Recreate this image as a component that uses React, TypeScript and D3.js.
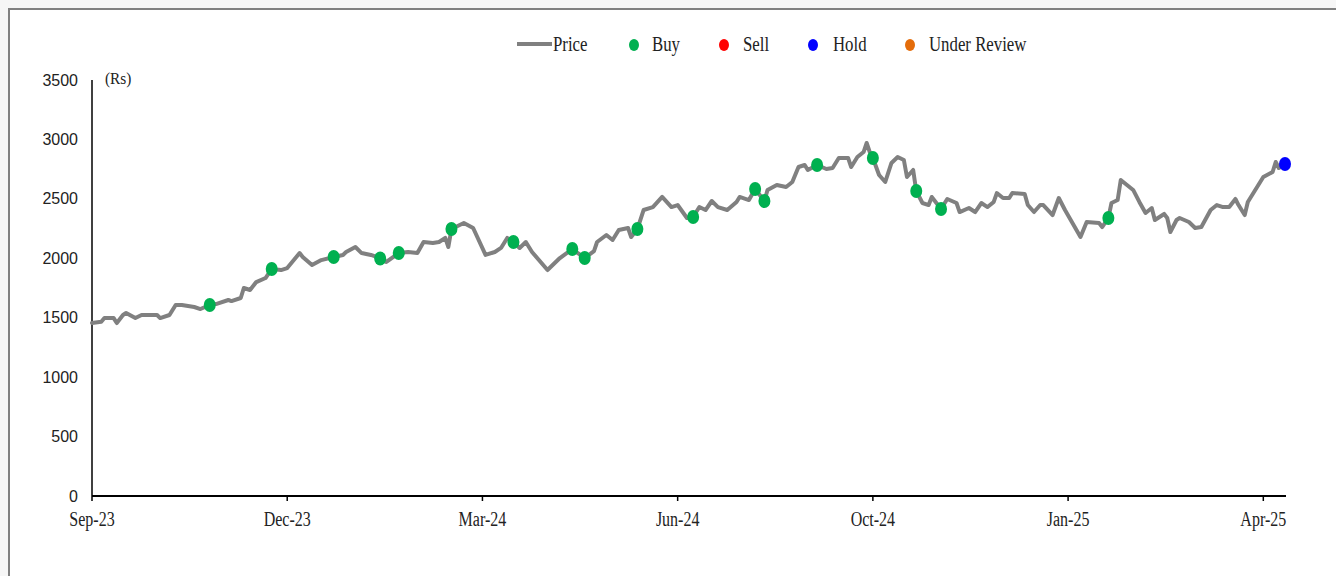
import React from "react";
import * as d3 from "d3";

// Trading-day index (0 = start of Sep-23) and closing price (Rs)
const priceDay = [
  0, 3, 4, 7, 8, 10, 11, 14, 16, 21, 22, 25, 27, 29, 33, 35, 38, 40, 44, 45, 48, 49, 51, 53, 56, 58,
  61, 63, 67, 68, 71, 74, 78, 81, 82, 85, 87, 90, 93, 95, 99, 102, 105, 107, 110, 112, 114, 115,
  116, 120, 123, 127, 130, 132, 134, 136, 138, 140, 142, 147, 151, 155, 159, 162, 163, 166, 168,
  170, 173, 174, 176, 178, 181, 184, 187, 189, 192, 194, 196, 198, 200, 202, 205, 208, 209, 212,
  214, 217, 218, 221, 224, 226, 228, 230, 231, 234, 237, 239, 241, 244, 245, 247, 249, 250, 251,
  252, 254, 256, 258, 260, 262, 263, 265, 266, 268, 270, 271, 274, 276, 279, 280, 283, 285, 287,
  289, 291, 292, 294, 296, 297, 301, 302, 304, 306, 307, 310, 312, 314, 319, 321, 325, 326, 328,
  329, 331, 332, 334, 336, 338, 340, 342, 343, 346, 347, 348, 350, 351, 354, 356, 358, 361, 363,
  365, 367, 369, 370, 372, 373, 376, 378, 381, 382, 383, 385,
];
const priceValue = [
  1455, 1466, 1497, 1497, 1455, 1523, 1540, 1497, 1523, 1523, 1497, 1523, 1607, 1607, 1590, 1573,
  1607, 1615, 1649, 1640, 1666, 1750, 1733, 1800, 1834, 1910, 1901, 1918, 2044, 2011, 1943, 1985,
  2011, 2028, 2053, 2095, 2044, 2028, 2002, 1969, 2044, 2053, 2044, 2137, 2129, 2137, 2171, 2095,
  2246, 2297, 2255, 2028, 2053, 2087, 2171, 2137, 2087, 2137, 2053, 1901, 2002, 2078, 2002, 2061,
  2137, 2196, 2154, 2238, 2255, 2179, 2246, 2406, 2431, 2516, 2431, 2448, 2339, 2347, 2431, 2406,
  2482, 2431, 2406, 2474, 2516, 2490, 2583, 2482, 2575, 2617, 2600, 2642, 2768, 2785, 2743, 2785,
  2751, 2760, 2844, 2844, 2768, 2852, 2894, 2970, 2894, 2844, 2701, 2642, 2802, 2852, 2827, 2684,
  2743, 2566, 2465, 2448, 2516, 2415, 2499, 2465, 2389, 2423, 2389, 2465, 2431, 2474, 2549, 2507,
  2507, 2549, 2541, 2448, 2389, 2448, 2448, 2364, 2507, 2406, 2179, 2305, 2297, 2263, 2339, 2465,
  2490, 2659, 2617, 2575, 2474, 2381, 2423, 2322, 2373, 2339, 2221, 2322, 2339, 2305, 2255, 2263,
  2406, 2448, 2431, 2431, 2499, 2448, 2364, 2474, 2600, 2684, 2726, 2810, 2760, 2793,
];

const buyDay = [38, 58, 78, 93, 99, 116, 136, 155, 159, 176, 194, 214, 217, 234, 252, 266, 274, 328];
const buyValue = [1607, 1910, 2011, 1998, 2044, 2246, 2137, 2078, 2002, 2246, 2347, 2583, 2482, 2785, 2844, 2566, 2415, 2339];
const sellDay: number[] = [];
const sellValue: number[] = [];
const holdDay = [385];
const holdValue = [2793];
const reviewDay: number[] = [];
const reviewValue: number[] = [];

const xTickDays = [0, 63, 126, 189, 252, 315, 378];
const xTickLabels = ["Sep-23", "Dec-23", "Mar-24", "Jun-24", "Oct-24", "Jan-25", "Apr-25"];
const yTicks = [0, 500, 1000, 1500, 2000, 2500, 3000, 3500];

const legendLabels = ["Price", "Buy", "Sell", "Hold", "Under Review"];
const COLORS = { price: "#808080", buy: "#00B050", sell: "#FF0000", hold: "#0000FF", review: "#E46C0A" };

export default function App() {
  const x = d3.scaleLinear().domain([0, 385]).range([92, 1285]);
  const y = d3.scaleLinear().domain([0, 3500]).range([496, 80]);
  const pts: [number, number][] = priceDay.map((d, i) => [d, priceValue[i]]);
  const line = d3
    .line<[number, number]>()
    .x((d) => x(d[0]))
    .y((d) => y(d[1]));

  const serif = "'Liberation Serif', 'Times New Roman', serif";
  const sans = "'Liberation Sans', Arial, sans-serif";

  const dots = (days: number[], vals: number[], color: string, key: string) =>
    days.map((d, i) => (
      <ellipse key={key + i} cx={x(d)} cy={y(vals[i])} rx={6} ry={7} fill={color} />
    ));

  // legend layout
  const legendY = 45;
  const legendItems = [
    { label: legendLabels[0], kind: "line", color: COLORS.price, mx: 517, tx: 553 },
    { label: legendLabels[1], kind: "dot", color: COLORS.buy, mx: 634, tx: 652 },
    { label: legendLabels[2], kind: "dot", color: COLORS.sell, mx: 724, tx: 743 },
    { label: legendLabels[3], kind: "dot", color: COLORS.hold, mx: 813, tx: 833 },
    { label: legendLabels[4], kind: "dot", color: COLORS.review, mx: 910, tx: 929 },
  ];

  return (
    <svg
      width={1336}
      height={576}
      style={{ position: "absolute", left: 0, top: 0, display: "block" }}
    >
      <rect x={0} y={0} width={1336} height={576} fill="#f6f6f6" />
      <rect x={9} y={9} width={1340} height={580} fill="#ffffff" stroke="#808080" strokeWidth={2} />

      {/* legend */}
      {legendItems.map((it) => (
        <g key={it.label}>
          {it.kind === "line" ? (
            <line x1={it.mx} x2={it.mx + 35} y1={legendY - 1} y2={legendY - 1} stroke={it.color} strokeWidth={4} />
          ) : (
            <ellipse cx={it.mx} cy={legendY} rx={5} ry={6} fill={it.color} />
          )}
          <text
            transform={`translate(${it.tx},${legendY + 6}) scale(0.8,1)`}
            fontFamily={serif}
            fontSize={21}
            fill="#222"
          >
            {it.label}
          </text>
        </g>
      ))}

      {/* y axis */}
      <line x1={x(0)} x2={x(0)} y1={y(3500)} y2={y(0)} stroke="#000" strokeWidth={1.5} />
      {yTicks.map((t) => (
        <text
          key={t}
          x={78}
          y={y(t)}
          dy="0.35em"
          textAnchor="end"
          fontFamily={sans}
          fontSize={16}
          fill="#222"
        >
          {t}
        </text>
      ))}
      <text
        transform={`translate(105,${y(3500) + 4}) scale(0.9,1)`}
        fontFamily={serif}
        fontSize={17}
        fill="#222"
      >
        (Rs)
      </text>

      {/* x axis */}
      <line x1={x(0)} x2={x(385) + 1} y1={y(0)} y2={y(0)} stroke="#000" strokeWidth={2} />
      {xTickDays.map((d, i) => (
        <g key={d}>
          <line x1={x(d)} x2={x(d)} y1={y(0)} y2={y(0) + 5} stroke="#000" strokeWidth={1.5} />
          <text
            transform={`translate(${x(d)},${y(0) + 30}) scale(0.8,1)`}
            textAnchor="middle"
            fontFamily={serif}
            fontSize={20}
            fill="#222"
          >
            {xTickLabels[i]}
          </text>
        </g>
      ))}

      {/* price line */}
      <path
        d={line(pts) || ""}
        fill="none"
        stroke={COLORS.price}
        strokeWidth={4}
        strokeLinejoin="round"
        strokeLinecap="round"
      />

      {dots(buyDay, buyValue, COLORS.buy, "b")}
      {dots(sellDay, sellValue, COLORS.sell, "s")}
      {dots(holdDay, holdValue, COLORS.hold, "h")}
      {dots(reviewDay, reviewValue, COLORS.review, "r")}
    </svg>
  );
}
